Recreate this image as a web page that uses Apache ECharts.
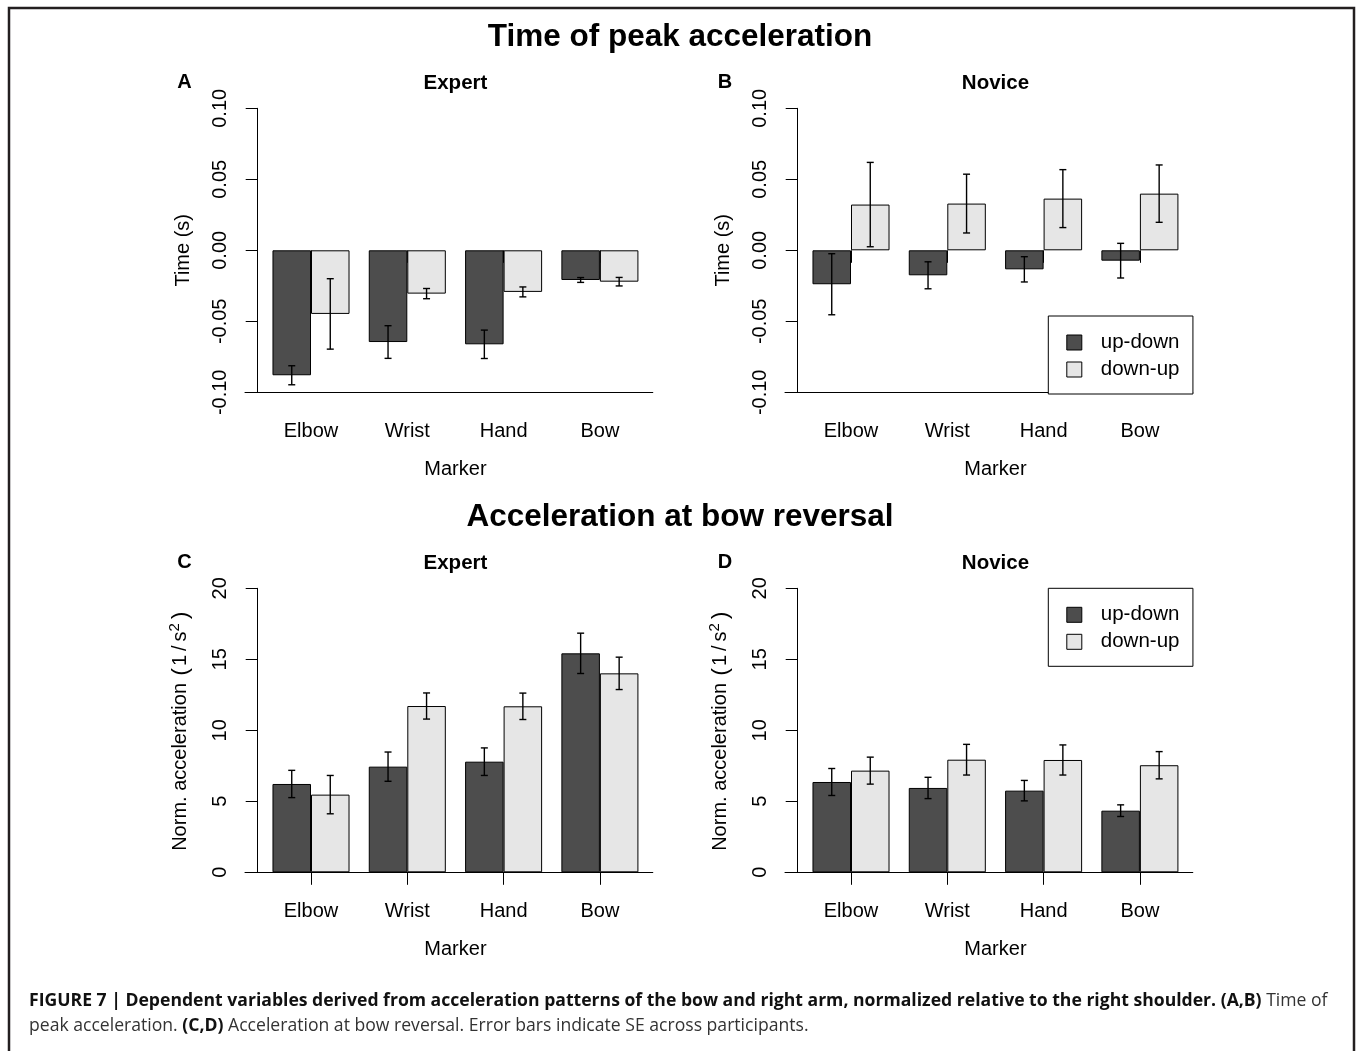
<!DOCTYPE html>
<html>
<head>
<meta charset="utf-8">
<script src="https://cdn.jsdelivr.net/npm/echarts@6/dist/echarts.min.js"></script>
<style>
  html, body { margin: 0; padding: 0; background: #fff; }
  #chart { width: 1357px; height: 1051px; }
</style>
</head>
<body>
<div id="chart"></div>
<script>
// Markers along the bow arm
const markers = ['Elbow', 'Wrist', 'Hand', 'Bow'];
const seriesNames = ['up-down', 'down-up'];

// Time of peak acceleration (s), means and standard errors
const timeExpertUpDown   = [-0.0880, -0.0646, -0.0662, -0.0209];
const timeExpertUpDownSE = [ 0.0067,  0.0115,  0.0100,  0.0017];
const timeExpertDownUp   = [-0.0448, -0.0305, -0.0293, -0.0221];
const timeExpertDownUpSE = [ 0.0248,  0.0036,  0.0035,  0.0030];
const timeNoviceUpDown   = [-0.0239, -0.0176, -0.0134, -0.0073];
const timeNoviceUpDownSE = [ 0.0215,  0.0095,  0.0089,  0.0122];
const timeNoviceDownUp   = [ 0.0322,  0.0329,  0.0364,  0.0399];
const timeNoviceDownUpSE = [ 0.0297,  0.0207,  0.0204,  0.0202];

// Normalized acceleration at bow reversal (1/s^2), means and standard errors
const accExpertUpDown   = [ 6.22,  7.44,  7.79, 15.42];
const accExpertUpDownSE = [ 0.96,  1.03,  0.97,  1.42];
const accExpertDownUp   = [ 5.47, 11.71, 11.69, 14.01];
const accExpertDownUpSE = [ 1.35,  0.92,  0.93,  1.14];
const accNoviceUpDown   = [ 6.36,  5.94,  5.75,  4.34];
const accNoviceUpDownSE = [ 0.95,  0.75,  0.72,  0.41];
const accNoviceDownUp   = [ 7.16,  7.93,  7.91,  7.54];
const accNoviceDownUpSE = [ 0.95,  1.08,  1.06,  0.96];

// Value-axis ranges
const timeAxis = { min: -0.10, max: 0.10, step: 0.05, digits: 2 };
const accAxis  = { min: 0, max: 20, step: 5, digits: 0 };

const FONT = "'Liberation Sans', Arial, Helvetica, sans-serif";
const CAPTION_FONT = "'Open Sans', 'Liberation Sans', sans-serif";
const DARK = '#4d4d4d';
const LIGHT = '#e6e6e6';
const INK = '#000';

const PLOT_W = 385.2;
const PLOT_H = 284;

const panels = [
  { letter: 'A', group: 'Expert', left: 262.85, top: 108.3, axis: timeAxis, yName: 'Time (s)',
    up: timeExpertUpDown, upSE: timeExpertUpDownSE, down: timeExpertDownUp, downSE: timeExpertDownUpSE },
  { letter: 'B', group: 'Novice', left: 802.85, top: 108.3, axis: timeAxis, yName: 'Time (s)',
    up: timeNoviceUpDown, upSE: timeNoviceUpDownSE, down: timeNoviceDownUp, downSE: timeNoviceDownUpSE },
  { letter: 'C', group: 'Expert', left: 262.85, top: 588.3, axis: accAxis, yName: 'acc',
    up: accExpertUpDown, upSE: accExpertUpDownSE, down: accExpertDownUp, downSE: accExpertDownUpSE },
  { letter: 'D', group: 'Novice', left: 802.85, top: 588.3, axis: accAxis, yName: 'acc',
    up: accNoviceUpDown, upSE: accNoviceUpDownSE, down: accNoviceDownUp, downSE: accNoviceDownUpSE }
];

const baseText = { fontFamily: FONT, fontSize: 20, color: INK };

// Error bars: a vertical segment with short caps, centred on each bar of the pair
function renderErrorBar(params, api) {
  const ci = api.value(0);
  const mean = api.value(1);
  const se = api.value(2);
  const which = api.value(3);
  const band = api.size([1, 0])[0];
  const off = (which === 0 ? -1 : 1) * band * 0.2;
  const hi = api.coord([ci, mean + se]);
  const lo = api.coord([ci, mean - se]);
  const x = hi[0] + off;
  const cap = 3.5;
  const st = { stroke: INK, lineWidth: 1.4 };
  return {
    type: 'group',
    children: [
      { type: 'line', shape: { x1: x, y1: hi[1], x2: x, y2: lo[1] }, style: st },
      { type: 'line', shape: { x1: x - cap, y1: hi[1], x2: x + cap, y2: hi[1] }, style: st },
      { type: 'line', shape: { x1: x - cap, y1: lo[1], x2: x + cap, y2: lo[1] }, style: st }
    ]
  };
}

const grids = [], xAxes = [], yAxes = [], series = [], titles = [];

panels.forEach((p, i) => {
  grids.push({ left: p.left, top: p.top, width: PLOT_W, height: PLOT_H });
  xAxes.push({
    type: 'category', gridIndex: i, data: markers,
    axisLine: { show: false },
    axisTick: { show: true, alignWithLabel: true, interval: 0, length: 12.5, lineStyle: { color: INK, width: 1 } },
    axisLabel: Object.assign({ margin: 29, interval: 0 }, baseText),
    splitLine: { show: false },
    name: 'Marker', nameLocation: 'middle', nameGap: 67,
    nameTextStyle: Object.assign({}, baseText)
  });
  const a = p.axis;
  const yAxis = {
    type: 'value', gridIndex: i, min: a.min, max: a.max, interval: a.step, offset: 5.15,
    axisLine: { show: true, lineStyle: { color: INK, width: 1 } },
    axisTick: { show: true, length: 12, lineStyle: { color: INK, width: 1 } },
    axisLabel: Object.assign({
      rotate: 90, margin: 27,
      formatter: v => (Math.abs(v) < 1e-9 ? 0 : v).toFixed(a.digits)
    }, baseText),
    splitLine: { show: false },
    nameLocation: 'middle', nameGap: 64, nameRotate: 90
  };
  if (p.yName === 'acc') {
    yAxis.name = '{t|Norm. acceleration }{p|(}{t|1\u2009/\u2009s}{s|2}{p|)}';
    yAxis.nameTextStyle = {
      rich: {
        t: { fontFamily: FONT, fontSize: 20, color: INK, lineHeight: 26 },
        p: { fontFamily: FONT, fontSize: 22, color: INK, lineHeight: 26, padding: [0, 2, 0, 2] },
        s: { fontFamily: FONT, fontSize: 15, color: INK, verticalAlign: 'top', lineHeight: 26, padding: [0, 2, 0, 0] }
      }
    };
  } else {
    yAxis.name = p.yName;
    yAxis.nameTextStyle = Object.assign({}, baseText);
  }
  yAxes.push(yAxis);

  const bars = [[p.up, DARK], [p.down, LIGHT]];
  bars.forEach(([vals, col], k) => {
    series.push({
      type: 'bar', name: seriesNames[k], xAxisIndex: i, yAxisIndex: i,
      data: vals, barGap: '0%', barCategoryGap: '20%',
      itemStyle: { color: col, borderColor: INK, borderWidth: 1 },
      silent: true
    });
  });
  const errData = markers.map((m, j) => [j, p.up[j], p.upSE[j], 0])
    .concat(markers.map((m, j) => [j, p.down[j], p.downSE[j], 1]));
  series.push({
    type: 'custom', xAxisIndex: i, yAxisIndex: i, data: errData,
    renderItem: renderErrorBar, encode: { x: 0, y: 1 }, z: 10, silent: true
  });

  const cx = p.left + PLOT_W / 2;
  titles.push({
    text: p.group, left: cx, top: p.top - 25.3, textAlign: 'center', textVerticalAlign: 'middle', padding: 0,
    textStyle: { fontFamily: FONT, fontSize: 20.5, fontWeight: 'bold', color: INK }
  });
  titles.push({
    text: p.letter, left: p.left - 78.5 + (i % 2 ? 0.5 : 0), top: p.top - 26, textAlign: 'center', textVerticalAlign: 'middle', padding: 0,
    textStyle: { fontFamily: FONT, fontSize: 20, fontWeight: 'bold', color: INK }
  });
});

// Long bottom axis lines running under each panel
panels.forEach((p, i) => {
  const gi = grids.length;
  grids.push({ left: p.left - 17.85, top: p.top + PLOT_H - 10, width: 407.8, height: 10 });
  xAxes.push({
    type: 'value', gridIndex: gi, min: 0, max: 1, position: 'bottom',
    axisLine: { show: true, lineStyle: { color: INK, width: 1 } },
    axisTick: { show: false }, axisLabel: { show: false }, splitLine: { show: false }
  });
  yAxes.push({ type: 'value', gridIndex: gi, show: false, min: 0, max: 1 });
});

titles.push({
  text: 'Time of peak acceleration', left: 680, top: 37, textAlign: 'center', textVerticalAlign: 'middle', padding: 0,
  textStyle: { fontFamily: FONT, fontSize: 31.5, fontWeight: 'bold', color: INK }
});
titles.push({
  text: 'Acceleration at bow reversal', left: 680, top: 517, textAlign: 'center', textVerticalAlign: 'middle', padding: 0,
  textStyle: { fontFamily: FONT, fontSize: 31.5, fontWeight: 'bold', color: INK }
});

function makeLegend(top) {
  return {
    data: seriesNames, orient: 'vertical', left: 1048.3, top: top,
    padding: [16, 13.5, 14, 18], itemWidth: 15, itemHeight: 15, itemGap: 6, icon: 'rect',
    borderColor: INK, borderWidth: 1, backgroundColor: '#fff',
    itemStyle: { borderColor: INK, borderWidth: 1 },
    textStyle: { fontFamily: FONT, fontSize: 20.5, color: INK, padding: [0, 0, 0, 14] },
    selectedMode: false
  };
}

const capBold = { fontFamily: CAPTION_FONT, fontSize: 17.6, fontWeight: 'bold', fill: '#111' };
const capReg = { fontFamily: CAPTION_FONT, fontSize: 17.6, fill: '#333' };

const option = {
  backgroundColor: '#fff',
  animation: false,
  title: titles,
  grid: grids,
  xAxis: xAxes,
  yAxis: yAxes,
  legend: [makeLegend(316), makeLegend(588.3)],
  series: series,
  graphic: [
    {
      type: 'polyline', silent: true,
      shape: { points: [[9, 1060], [9, 8], [1354, 8], [1354, 1060]] },
      style: { stroke: '#231f20', lineWidth: 2.5, fill: 'none' }
    },
    {
      type: 'text', x: 29, y: 1001, silent: true,
      style: {
        text: '{b|FIGURE 7 | Dependent variables derived from acceleration patterns of the bow and right arm, normalized relative to the right shoulder. (A,B)}{r| Time of}',
        verticalAlign: 'middle', align: 'left',
        rich: { b: capBold, r: capReg }
      }
    },
    {
      type: 'text', x: 29, y: 1026, silent: true,
      style: {
        text: '{r|peak acceleration. }{b|(C,D)}{r| Acceleration at bow reversal. Error bars indicate SE across participants.}',
        verticalAlign: 'middle', align: 'left',
        rich: { b: capBold, r: capReg }
      }
    }
  ]
};

const chart = echarts.init(document.getElementById('chart'), null, { renderer: 'canvas' });
chart.setOption(option);
</script>
</body>
</html>
